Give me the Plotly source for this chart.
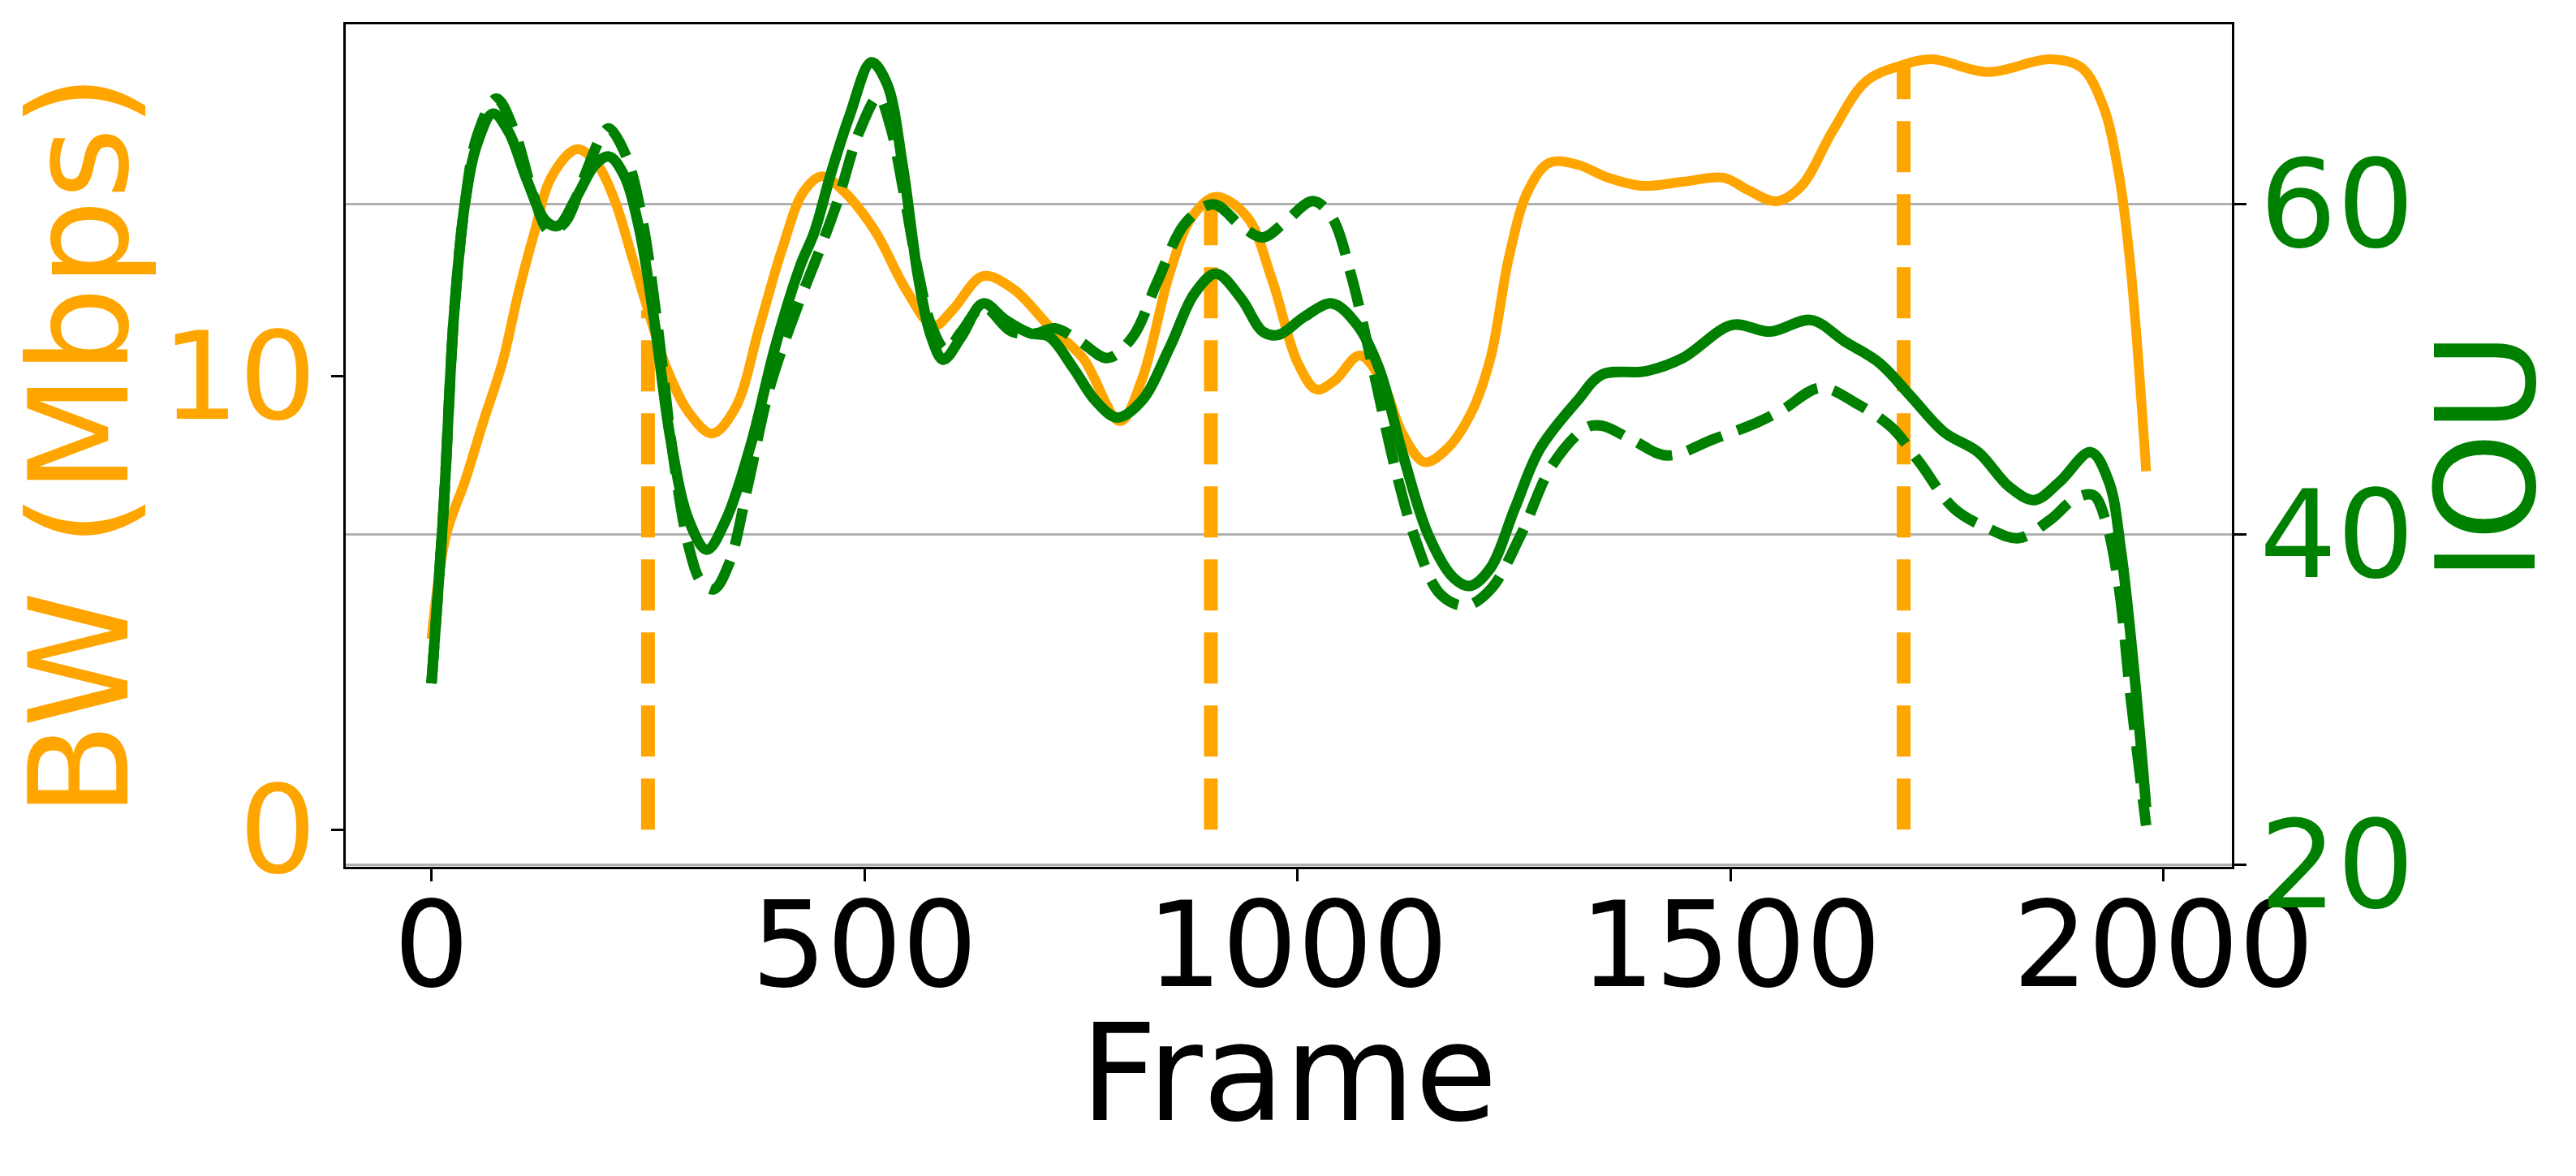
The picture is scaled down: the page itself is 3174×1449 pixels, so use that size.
import plotly.graph_objects as go

# bandwidth (left axis)
bw_frames = [0, 17, 39, 60, 82, 100, 118, 139, 168, 190, 211, 232, 250, 272, 297, 324,
             351, 379, 405, 430, 451, 476, 512, 548, 580, 602, 637, 673, 713, 752, 795,
             820, 853, 878, 906, 942, 971, 1000, 1022, 1043, 1072, 1097, 1122, 1147, 1173,
             1201, 1223, 1244, 1266, 1291, 1323, 1359, 1398, 1445, 1492, 1520, 1553, 1582,
             1618, 1657, 1700, 1733, 1797, 1869, 1905, 1930, 1948, 1962, 1980]
bw_values = [4.2, 6.5, 7.7, 9.0, 10.3, 11.8, 13.1, 14.4, 15.0, 14.7, 13.9, 12.6, 11.45, 10.15,
             9.2, 8.73, 9.3, 11.1, 12.8, 14.07, 14.4, 14.07, 13.2, 11.9, 11.1, 11.46, 12.2,
             11.9, 11.1, 10.4, 9.0, 9.9, 12.3, 13.5, 13.95, 13.5, 12.1, 10.3, 9.7, 9.9, 10.45,
             9.9, 8.7, 8.1, 8.4, 9.2, 10.4, 12.6, 14.07, 14.7, 14.66, 14.37, 14.19, 14.28,
             14.37, 14.1, 13.85, 14.19, 15.4, 16.5, 16.86, 16.98, 16.7, 16.98, 16.8, 15.97,
             14.5, 12.4, 7.9]

# IOU, solid line (right axis)
iou_frames = [0, 14, 26, 39, 53, 71, 89, 110, 132, 146, 168, 189, 205, 222, 240, 258, 276,
              297, 318, 340, 369, 397, 426, 442, 462, 483, 508, 526, 544, 562, 577, 591, 612,
              637, 663, 691, 713, 741, 767, 792, 820, 853, 881, 906, 935, 960, 978, 1008,
              1040, 1069, 1094, 1122, 1151, 1180, 1199, 1223, 1251, 1280, 1323, 1352, 1402,
              1445, 1502, 1546, 1593, 1632, 1672, 1708, 1747, 1786, 1822, 1851, 1880, 1916,
              1937, 1951, 1966, 1980]
iou_values = [31.0, 41.6, 53.3, 60.2, 63.7, 65.5, 64.4, 61.5, 59.0, 58.7, 60.5, 62.4, 62.9,
              61.8, 58.5, 52.7, 45.8, 40.9, 39.1, 40.9, 45.5, 51.4, 56.3, 58.3, 62.0, 65.4,
              68.6, 67.3, 62.4, 55.6, 52.0, 50.6, 52.0, 54.0, 53.0, 52.2, 52.0, 50.1, 48.1,
              47.1, 48.1, 51.4, 54.6, 55.8, 54.3, 52.3, 52.1, 53.2, 54.0, 52.7, 50.1, 44.8,
              40.0, 37.4, 36.9, 38.0, 41.6, 45.2, 48.1, 49.7, 49.9, 50.7, 52.7, 52.3, 53.0,
              51.7, 50.4, 48.4, 46.2, 45.0, 42.9, 42.1, 43.2, 45.0, 43.2, 39.0, 31.8, 23.5]

# IOU, dashed line (right axis)
iou2_frames = [0, 14, 26, 39, 53, 75, 96, 118, 136, 154, 175, 197, 205, 225, 243, 261, 279,
               297, 311, 326, 344, 365, 390, 419, 451, 469, 494, 516, 530, 544, 562, 577, 594,
               612, 637, 670, 698, 720, 749, 781, 810, 838, 871, 903, 935, 960, 985, 1018,
               1040, 1061, 1087, 1112, 1137, 1165, 1194, 1223, 1258, 1294, 1334, 1352, 1388,
               1427, 1481, 1531, 1561, 1604, 1647, 1686, 1718, 1758, 1797, 1833, 1869, 1898,
               1919, 1933, 1948, 1962, 1980]
iou2_values = [31.0, 41.6, 53.3, 60.2, 64.2, 66.4, 64.4, 60.5, 58.4, 58.9, 61.5, 64.2, 64.6,
               62.9, 59.2, 52.7, 44.8, 39.3, 37.2, 36.7, 38.3, 42.9, 48.8, 53.3, 57.6, 60.2,
               64.4, 66.5, 64.7, 61.1, 55.9, 52.7, 51.2, 52.3, 53.8, 52.3, 52.2, 52.5, 51.7,
               50.7, 52.0, 55.3, 58.9, 60.0, 58.7, 58.0, 58.9, 60.2, 59.2, 55.9, 50.1, 44.2,
               39.6, 36.4, 35.7, 36.7, 40.0, 44.2, 46.5, 46.6, 45.7, 44.8, 45.8, 46.8, 47.6,
               48.9, 47.9, 46.5, 44.4, 41.6, 40.4, 39.8, 40.9, 42.2, 42.4, 40.9, 37.0, 30.2,
               22.4]

# marked frames, drawn from 0 up to the bandwidth there
vline_frames = [250, 900, 1700]
vline_tops = [11.45, 13.95, 16.86]

x_ticks = [0, 500, 1000, 1500, 2000]
bw_ticks = [0, 10]
iou_ticks = [20, 40, 60]

ORANGE = '#FFA500'
GREEN = '#008000'

fig = go.Figure()

vx, vy = [], []
for f, top in zip(vline_frames, vline_tops):
    vx += [f, f, None]
    vy += [0, top, None]
fig.add_trace(go.Scatter(x=vx, y=vy, mode='lines', yaxis='y',
                         line=dict(color=ORANGE, width=17, dash='63px,27px')))

fig.add_trace(go.Scatter(x=bw_frames, y=bw_values, mode='lines', yaxis='y',
                         line=dict(color=ORANGE, width=12, shape='spline', smoothing=1.0)))

fig.add_trace(go.Scatter(x=iou2_frames, y=iou2_values, mode='lines', yaxis='y2',
                         line=dict(color=GREEN, width=13, dash='46px,20px',
                                   shape='spline', smoothing=1.0)))
fig.add_trace(go.Scatter(x=iou_frames, y=iou_values, mode='lines', yaxis='y2',
                         line=dict(color=GREEN, width=13, shape='spline', smoothing=1.0)))

axis_common = dict(ticks='outside', ticklen=15, tickwidth=3, tickcolor='black',
                   showline=True, linecolor='black', linewidth=3, zeroline=False,
                   automargin=False)

# the page body adds an 8px offset, so the margins are shifted to compensate
fig.update_layout(
    width=3174, height=1449,
    margin=dict(l=418, r=432, t=22, b=389, autoexpand=False),
    plot_bgcolor='white', paper_bgcolor='white',
    showlegend=False,
    font=dict(family='DejaVu Sans', size=150, color='black'),
    xaxis=dict(range=[-99, 2079], tickvals=x_ticks, showgrid=False, mirror=True,
               ticklabelstandoff=-46,
               tickfont=dict(size=146, color='black'), **axis_common),
    yaxis=dict(range=[-0.82, 17.75], tickvals=bw_ticks, showgrid=False,
               ticklabelstandoff=-12,
               tickfont=dict(size=150, color=ORANGE), **axis_common),
    yaxis2=dict(range=[19.9, 70.9], tickvals=iou_ticks, overlaying='y', side='right',
                showgrid=True, gridcolor='#b0b0b0', gridwidth=3,
                ticklabelstandoff=-14,
                tickfont=dict(size=150, color=GREEN), **axis_common),
    annotations=[
        dict(text='BW (Mbps)', xref='paper', yref='paper', x=0, y=0.5, xshift=-328,
             textangle=-90, showarrow=False, xanchor='center', yanchor='middle',
             font=dict(size=170, color=ORANGE)),
        dict(text='IOU', xref='paper', yref='paper', x=1, y=0.5, xshift=314, yshift=-14,
             textangle=-90, showarrow=False, xanchor='center', yanchor='middle',
             font=dict(size=170, color=GREEN)),
        dict(text='Frame', xref='paper', yref='paper', x=0.5, y=0, yshift=-255,
             showarrow=False, xanchor='center', yanchor='middle',
             font=dict(size=165, color='black')),
    ],
)

fig.write_html("out.html")
